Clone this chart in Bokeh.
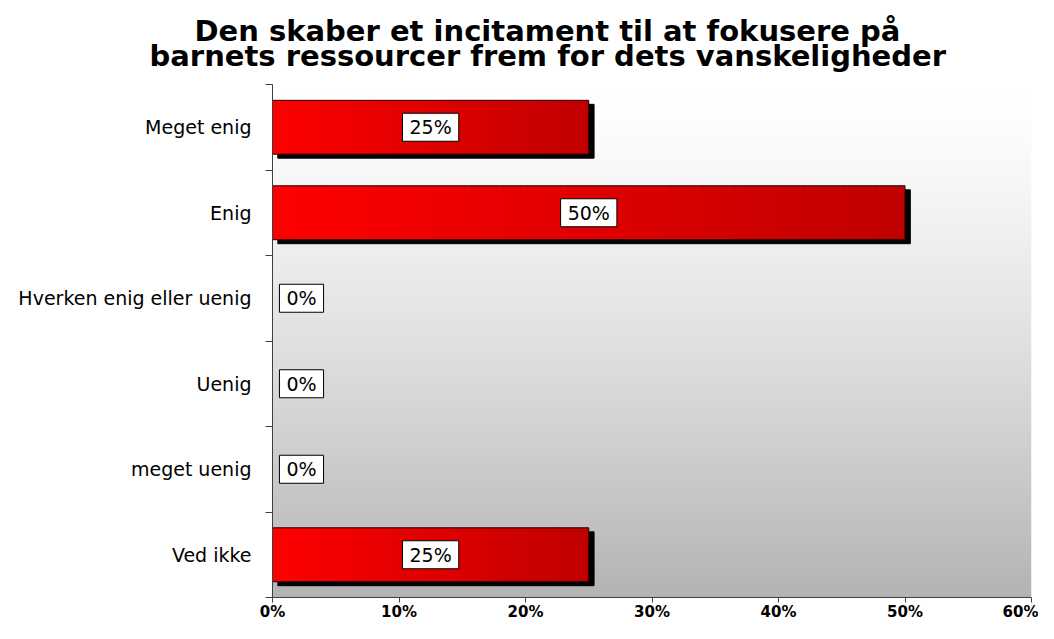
import numpy as np
from bokeh.plotting import figure
from bokeh.models import Range1d, FixedTicker, PrintfTickFormatter, ColumnDataSource, Title
from bokeh.core.properties import value
from bokeh.embed import file_html
from bokeh.resources import INLINE

# ---- data ----
categories = ["Meget enig", "Enig", "Hverken enig eller uenig", "Uenig", "meget uenig", "Ved ikke"]
values = [25, 50, 0, 0, 0, 25]
value_labels = ["25%", "50%", "0%", "0%", "0%", "25%"]
x_ticks = [0, 10, 20, 30, 40, 50, 60]
title_lines = ["Den skaber et incitament til at fokusere på",
               "barnets ressourcer frem for dets vanskeligheder"]

n = len(categories)
ypos = [n - i - 0.5 for i in range(n)]
BAR_H = 0.63

p = figure(width=1038, height=623, x_range=Range1d(0, 60), y_range=Range1d(0, n),
           output_backend="svg", toolbar_location=None,
           min_border_left=272, min_border_right=7, min_border_top=84, min_border_bottom=20)
p.background_fill_color = "white"
p.border_fill_color = "white"
p.outline_line_color = None
p.xgrid.visible = False
p.ygrid.visible = False

# ---- gradient background of plot area ----
rows = 521
img = np.zeros((rows, 1), dtype=np.uint32)
view = img.view(dtype=np.uint8).reshape((rows, 1, 4))
for r in range(rows):
    t = 1 - r / (rows - 1)          # 0 at top, 1 at bottom
    g = int(round(255 - 76 * t ** 1.3))
    view[r, 0, 0] = g
    view[r, 0, 1] = g
    view[r, 0, 2] = g
    view[r, 0, 3] = 255
p.image_rgba(image=[img], x=0, y=0, dw=60, dh=n)

# ---- bars ----
nz = [i for i, v in enumerate(values) if v > 0]
sh_dx, sh_dy = 0.42, 0.047
p.hbar(y=[ypos[i] - sh_dy for i in nz], left=[sh_dx] * len(nz),
       right=[values[i] + sh_dx for i in nz], height=BAR_H,
       fill_color="black", line_color="black")

N = 80
sl_y, sl_l, sl_r, sl_c = [], [], [], []
for i in nz:
    v = values[i]
    for k in range(N):
        f = (k + 0.5) / N
        rr = int(round(255 - (255 - 192) * f))
        sl_y.append(ypos[i])
        sl_l.append(v * k / N)
        sl_r.append(v * min(k + 1.6, N) / N)
        sl_c.append("#%02x0000" % rr)
src = ColumnDataSource(dict(y=sl_y, left=sl_l, right=sl_r, color=sl_c))
p.hbar(y="y", left="left", right="right", height=BAR_H, fill_color="color",
       line_color=None, source=src)
p.hbar(y=[ypos[i] for i in nz], left=[0] * len(nz), right=[values[i] for i in nz],
       height=BAR_H, fill_color=None, line_color="#200000", line_width=1)

# ---- data labels ----
lx = [v / 2 if v > 0 else 0 for v in values]
loff = [0 if v > 0 else 29 for v in values]
p.text(x=lx, y=ypos, x_offset=loff, text=value_labels, text_align="center",
       text_baseline="middle", text_font=value("DejaVu Sans"), text_font_size="19px",
       text_color="black", background_fill_color="white", border_line_color="black",
       border_line_width=1, padding=(7, 3))

# ---- axes ----
ya = p.yaxis[0]
ya.ticker = FixedTicker(ticks=ypos, minor_ticks=list(range(n + 1)))
ya.major_label_overrides = {y: c for y, c in zip(ypos, categories)}
ya.major_tick_line_color = None
ya.major_tick_out = 0
ya.major_tick_in = 0
ya.minor_tick_out = 7
ya.minor_tick_in = 0
ya.minor_tick_line_color = "#404040"
ya.axis_line_color = "#404040"
ya.major_label_standoff = 14
ya.major_label_text_font = "DejaVu Sans"
ya.major_label_text_font_size = "19px"
ya.major_label_text_color = "black"

xa = p.xaxis[0]
xa.ticker = FixedTicker(ticks=x_ticks)
xa.formatter = PrintfTickFormatter(format="%d%%")
xa.major_tick_out = 5
xa.major_tick_in = 0
xa.minor_tick_line_color = None
xa.axis_line_color = "#404040"
xa.major_tick_line_color = "#404040"
xa.major_label_standoff = 0
xa.major_label_text_font = "DejaVu Sans"
xa.major_label_text_font_style = "bold"
xa.major_label_text_font_size = "15px"
xa.major_label_text_color = "black"

# ---- title: two lines, each centred near x=547 ----
def style_title(t, text, start, standoff):
    t.text = text
    t.align = "left"
    t.offset = start - 272
    t.text_font = "DejaVu Sans"
    t.text_font_style = "bold"
    t.text_font_size = "29px"
    t.text_color = "black"
    t.standoff = standoff

style_title(p.title, title_lines[0], 194, -46)   # outer line
t2 = Title()
style_title(t2, title_lines[1], 149, 24)         # inner line (next to plot)
p.add_layout(t2, "above")

open("out.html", "w").write(file_html(p, INLINE))
